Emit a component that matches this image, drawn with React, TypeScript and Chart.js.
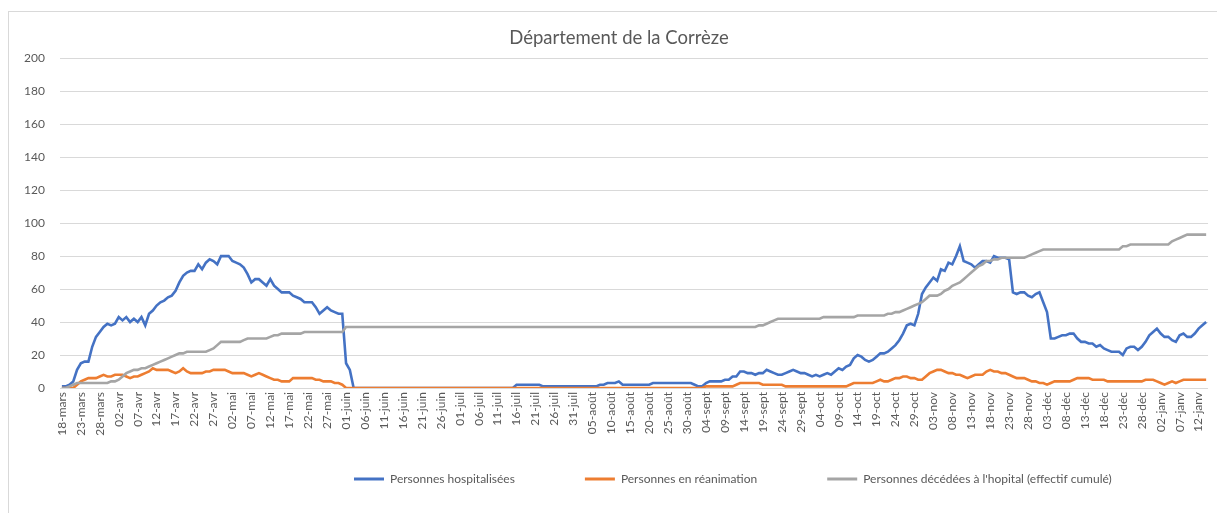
import { useEffect, useRef } from 'react';
import { Chart, registerables } from 'chart.js';

Chart.register(...registerables);

const TITLE = 'Département de la Corrèze';

const tickLabels = [
  '18-mars', '23-mars', '28-mars', '02-avr', '07-avr', '12-avr', '17-avr', '22-avr', '27-avr', '02-mai',
  '07-mai', '12-mai', '17-mai', '22-mai', '27-mai', '01-juin', '06-juin', '11-juin', '16-juin', '21-juin',
  '26-juin', '01-juil', '06-juil', '11-juil', '16-juil', '21-juil', '26-juil', '31-juil', '05-août', '10-août',
  '15-août', '20-août', '25-août', '30-août', '04-sept', '09-sept', '14-sept', '19-sept', '24-sept', '29-sept',
  '04-oct', '09-oct', '14-oct', '19-oct', '24-oct', '29-oct', '03-nov', '08-nov', '13-nov', '18-nov',
  '23-nov', '28-nov', '03-déc', '08-déc', '13-déc', '18-déc', '23-déc', '28-déc', '02-janv', '07-janv',
  '12-janv',
];

const seriesNames = [
  'Personnes hospitalisées',
  'Personnes en réanimation',
  "Personnes décédées à l'hopital (effectif cumulé)",
];

const hospitalisees = [
  1, 1, 2, 4, 11, 15, 16, 16, 25, 31,
  34, 37, 39, 38, 39, 43, 41, 43, 40, 42,
  40, 43, 38, 45, 47, 50, 52, 53, 55, 56,
  59, 64, 68, 70, 71, 71, 75, 72, 76, 78,
  77, 75, 80, 80, 80, 77, 76, 75, 73, 69,
  64, 66, 66, 64, 62, 66, 62, 60, 58, 58,
  58, 56, 55, 54, 52, 52, 52, 49, 45, 47,
  49, 47, 46, 45, 45, 15, 11, 0, 0, 0,
  0, 0, 0, 0, 0, 0, 0, 0, 0, 0,
  0, 0, 0, 0, 0, 0, 0, 0, 0, 0,
  0, 0, 0, 0, 0, 0, 0, 0, 0, 0,
  0, 0, 0, 0, 0, 0, 0, 0, 0, 0,
  2, 2, 2, 2, 2, 2, 2, 1, 1, 1,
  1, 1, 1, 1, 1, 1, 1, 1, 1, 1,
  1, 1, 2, 2, 3, 3, 3, 4, 2, 2,
  2, 2, 2, 2, 2, 2, 3, 3, 3, 3,
  3, 3, 3, 3, 3, 3, 3, 2, 1, 1,
  3, 4, 4, 4, 4, 5, 5, 7, 7, 10,
  10, 9, 9, 8, 9, 9, 11, 10, 9, 8,
  8, 9, 10, 11, 10, 9, 9, 8, 7, 8,
  7, 8, 9, 8, 10, 12, 11, 13, 14, 18,
  20, 19, 17, 16, 17, 19, 21, 21, 22, 24,
  26, 29, 33, 38, 39, 38, 45, 57, 61, 64,
  67, 65, 72, 71, 76, 75, 80, 86, 77, 76,
  75, 73, 75, 77, 77, 76, 80, 79, 79, 79,
  78, 58, 57, 58, 58, 56, 55, 57, 58, 52,
  46, 30, 30, 31, 32, 32, 33, 33, 30, 28,
  28, 27, 27, 25, 26, 24, 23, 22, 22, 22,
  20, 24, 25, 25, 23, 25, 28, 32, 34, 36,
  33, 31, 31, 29, 28, 32, 33, 31, 31, 33,
  36, 38, 40,
];

const reanimation = [
  0, 0, 0, 0, 2, 4, 5, 6, 6, 6,
  7, 8, 7, 7, 8, 8, 8, 7, 6, 7,
  7, 8, 9, 10, 12, 11, 11, 11, 11, 10,
  9, 10, 12, 10, 9, 9, 9, 9, 10, 10,
  11, 11, 11, 11, 10, 9, 9, 9, 9, 8,
  7, 8, 9, 8, 7, 6, 5, 5, 4, 4,
  4, 6, 6, 6, 6, 6, 6, 5, 5, 4,
  4, 4, 3, 3, 2, 0, 0, 0, 0, 0,
  0, 0, 0, 0, 0, 0, 0, 0, 0, 0,
  0, 0, 0, 0, 0, 0, 0, 0, 0, 0,
  0, 0, 0, 0, 0, 0, 0, 0, 0, 0,
  0, 0, 0, 0, 0, 0, 0, 0, 0, 0,
  0, 0, 0, 0, 0, 0, 0, 0, 0, 0,
  0, 0, 0, 0, 0, 0, 0, 0, 0, 0,
  0, 0, 0, 0, 0, 0, 0, 0, 0, 0,
  0, 0, 0, 0, 0, 0, 0, 0, 0, 0,
  0, 0, 0, 0, 0, 0, 0, 0, 0, 0,
  1, 1, 1, 1, 1, 1, 1, 1, 2, 3,
  3, 3, 3, 3, 3, 2, 2, 2, 2, 2,
  2, 1, 1, 1, 1, 1, 1, 1, 1, 1,
  1, 1, 1, 1, 1, 1, 1, 1, 2, 3,
  3, 3, 3, 3, 3, 4, 5, 4, 4, 5,
  6, 6, 7, 7, 6, 6, 5, 5, 7, 9,
  10, 11, 11, 10, 9, 9, 8, 8, 7, 6,
  7, 8, 8, 8, 10, 11, 10, 10, 9, 9,
  8, 7, 6, 6, 6, 5, 4, 4, 3, 3,
  2, 3, 4, 4, 4, 4, 4, 5, 6, 6,
  6, 6, 5, 5, 5, 5, 4, 4, 4, 4,
  4, 4, 4, 4, 4, 4, 5, 5, 5, 4,
  3, 2, 3, 4, 3, 4, 5, 5, 5, 5,
  5, 5, 5,
];

const decedes = [
  0, 0, 1, 2, 3, 3, 3, 3, 3, 3,
  3, 3, 3, 4, 4, 5, 7, 9, 10, 11,
  11, 12, 12, 13, 14, 15, 16, 17, 18, 19,
  20, 21, 21, 22, 22, 22, 22, 22, 22, 23,
  24, 26, 28, 28, 28, 28, 28, 28, 29, 30,
  30, 30, 30, 30, 30, 31, 32, 32, 33, 33,
  33, 33, 33, 33, 34, 34, 34, 34, 34, 34,
  34, 34, 34, 34, 34, 37, 37, 37, 37, 37,
  37, 37, 37, 37, 37, 37, 37, 37, 37, 37,
  37, 37, 37, 37, 37, 37, 37, 37, 37, 37,
  37, 37, 37, 37, 37, 37, 37, 37, 37, 37,
  37, 37, 37, 37, 37, 37, 37, 37, 37, 37,
  37, 37, 37, 37, 37, 37, 37, 37, 37, 37,
  37, 37, 37, 37, 37, 37, 37, 37, 37, 37,
  37, 37, 37, 37, 37, 37, 37, 37, 37, 37,
  37, 37, 37, 37, 37, 37, 37, 37, 37, 37,
  37, 37, 37, 37, 37, 37, 37, 37, 37, 37,
  37, 37, 37, 37, 37, 37, 37, 37, 37, 37,
  37, 37, 37, 37, 38, 38, 39, 40, 41, 42,
  42, 42, 42, 42, 42, 42, 42, 42, 42, 42,
  42, 43, 43, 43, 43, 43, 43, 43, 43, 43,
  44, 44, 44, 44, 44, 44, 44, 44, 45, 45,
  46, 46, 47, 48, 49, 50, 51, 52, 54, 56,
  56, 56, 57, 59, 60, 62, 63, 64, 66, 68,
  70, 72, 74, 75, 77, 77, 78, 78, 79, 79,
  79, 79, 79, 79, 79, 80, 81, 82, 83, 84,
  84, 84, 84, 84, 84, 84, 84, 84, 84, 84,
  84, 84, 84, 84, 84, 84, 84, 84, 84, 84,
  86, 86, 87, 87, 87, 87, 87, 87, 87, 87,
  87, 87, 87, 89, 90, 91, 92, 93, 93, 93,
  93, 93, 93,
];

const TICK_EVERY = 5;
const categories = hospitalisees.map((_, i) =>
  i % TICK_EVERY === 0 ? tickLabels[i / TICK_EVERY] ?? '' : ''
);

const COLORS = ['#4472C4', '#ED7D31', '#A5A5A5'];
const TEXT = '#595959';
const FONT = 'Lato, "Open Sans", sans-serif';

const LEGEND_GAP = 70;
const LEGEND_FONT = 12;
const LEGEND_LEFT = 284;
const LEGEND_TEXT_Y = 479;
const TITLE_SHIFT = 12;

const placeBlocks = {
  id: 'placeBlocks',
  afterLayout(chart: any) {
    const lg = chart.legend;
    if (lg) {
      const w = lg.right - lg.left;
      lg.left = LEGEND_LEFT;
      lg.right = LEGEND_LEFT + w;
      lg.top = LEGEND_TEXT_Y - LEGEND_GAP - LEGEND_FONT / 2;
      lg.bottom = lg.top + LEGEND_GAP + LEGEND_FONT + 14;
      lg.height = lg.bottom - lg.top;
    }
    const tb = chart.titleBlock;
    if (tb) {
      tb.left += TITLE_SHIFT;
      tb.right += TITLE_SHIFT;
    }
  },
};

export default function App() {
  const ref = useRef<HTMLCanvasElement>(null);

  useEffect(() => {
    if (!ref.current) return;
    const values = [hospitalisees, reanimation, decedes];
    const orders = [2, 1, 0];
    const chart = new Chart(ref.current, {
      type: 'line',
      data: {
        labels: categories,
        datasets: values.map((v, k) => ({
          label: seriesNames[k],
          data: v,
          borderColor: COLORS[k],
          backgroundColor: COLORS[k],
          borderWidth: 2.6,
          pointRadius: 0,
          tension: 0,
          order: orders[k],
        })),
      },
      options: {
        responsive: false,
        maintainAspectRatio: false,
        animation: false,
        layout: { padding: { left: 0, right: 3, top: 0, bottom: 47 } },
        plugins: {
          tooltip: { enabled: false },
          title: {
            display: true,
            text: TITLE,
            color: TEXT,
            font: { family: FONT, size: 18.5, weight: 'normal' },
            padding: { top: 27, bottom: 9 },
          },
          legend: {
            position: 'bottom',
            align: 'start',
            maxHeight: 20,
            labels: {
              color: TEXT,
              font: { family: FONT, size: LEGEND_FONT },
              boxWidth: 30,
              boxHeight: 3,
              padding: LEGEND_GAP,
              sort: (a: any, b: any) => a.datasetIndex - b.datasetIndex,
              generateLabels: (c: any) =>
                Chart.defaults.plugins.legend.labels
                  .generateLabels(c)
                  .map((l: any) => ({ ...l, lineWidth: 0 })),
            },
          },
        },
        scales: {
          x: {
            offset: true,
            grid: { display: false, drawTicks: false },
            border: { display: false },
            afterFit: (s: any) => {
              s.height = 58;
            },
            ticks: {
              autoSkip: false,
              minRotation: 90,
              maxRotation: 90,
              padding: 4,
              color: TEXT,
              font: { family: FONT, size: 12 },
              callback: (_v: any, i: number) => (categories[i] ? categories[i] : null),
            },
          },
          y: {
            min: 0,
            max: 200,
            grid: { color: '#D9D9D9', lineWidth: 1, drawTicks: false },
            border: { display: false },
            afterFit: (s: any) => {
              s.width = 60;
            },
            ticks: {
              stepSize: 20,
              padding: 15,
              color: TEXT,
              font: { family: FONT, size: 12 },
            },
          },
        },
      },
      plugins: [placeBlocks],
    });
    return () => chart.destroy();
  }, []);

  return (
    <div
      style={{
        position: 'fixed',
        left: 0,
        top: 0,
        width: 1217,
        height: 513,
        overflow: 'hidden',
        background: '#ffffff',
      }}
    >
      <div
        style={{
          position: 'absolute',
          left: 8,
          top: 11,
          width: 1250,
          height: 560,
          border: '1px solid #D9D9D9',
          boxSizing: 'border-box',
        }}
      />
      <canvas
        ref={ref}
        width={1217}
        height={513}
        style={{ position: 'absolute', left: 0, top: 0, width: 1217, height: 513 }}
      />
    </div>
  );
}
